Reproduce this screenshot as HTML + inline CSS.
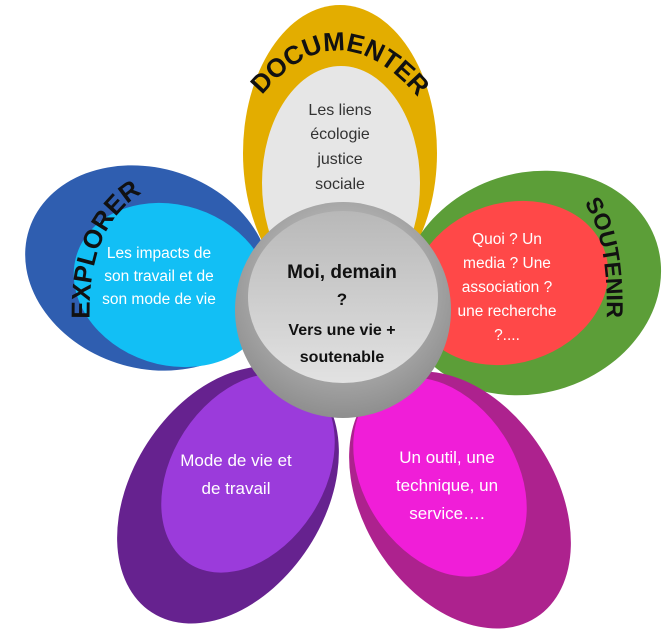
<!DOCTYPE html>
<html><head><meta charset="utf-8"><style>
html,body{margin:0;padding:0;background:#fff;overflow:hidden;width:667px;height:631px;}
#w{width:667px;height:631px;overflow:hidden;position:relative;}
svg{display:block;}
text{font-family:"Liberation Sans",sans-serif;}
</style></head><body><div id="w">
<svg width="667" height="631" viewBox="0 0 667 631" xmlns="http://www.w3.org/2000/svg">
<defs>
<radialGradient id="cg" cx="50%" cy="40%" r="60%"><stop offset="0" stop-color="#d8d8d8"/><stop offset="1" stop-color="#8e8e8e"/></radialGradient>
<linearGradient id="ci" x1="0" y1="0" x2="0" y2="1"><stop offset="0" stop-color="#b8b8b8"/><stop offset="1" stop-color="#e2e2e2"/></linearGradient>
<path id="pDoc" d="M 258,100 Q 338,0 422,102"/>
<path id="pExp" d="M 90,330 Q 84,220 152,188"/>
<path id="pSou" d="M 573,190 Q 612,225 606,335"/>
</defs>
<ellipse cx="340" cy="153" rx="97" ry="148" fill="#e3ad00"/>
<ellipse cx="341" cy="183" rx="79" ry="117" fill="#e6e6e6"/>
<ellipse cx="148" cy="268" rx="100" ry="125" fill="#2f5eb0" transform="rotate(-72 148 268)"/>
<ellipse cx="172" cy="285" rx="80" ry="100" fill="#12bff5" transform="rotate(-72 172 285)"/>
<ellipse cx="531" cy="283" rx="110" ry="132" fill="#5c9e38" transform="rotate(72 531 283)"/>
<ellipse cx="510" cy="283" rx="80" ry="100" fill="#ff4848" transform="rotate(72 510 283)"/>
<ellipse cx="228" cy="495" rx="96" ry="140" fill="#66228f" transform="rotate(33 228 495)"/>
<ellipse cx="248" cy="473" rx="76" ry="108" fill="#9b3bdb" transform="rotate(33 248 473)"/>
<ellipse cx="460" cy="500" rx="96" ry="140" fill="#ad228e" transform="rotate(-33 460 500)"/>
<ellipse cx="440" cy="477" rx="76" ry="108" fill="#f01ed8" transform="rotate(-33 440 477)"/>
<circle cx="343" cy="310" r="108" fill="url(#cg)"/>
<ellipse cx="343" cy="297" rx="95" ry="86" fill="url(#ci)"/>
<text font-size="26" font-weight="bold" fill="#111"><textPath href="#pDoc" startOffset="50%" text-anchor="middle">DOCUMENTER</textPath></text>
<text font-size="26" font-weight="bold" fill="#111"><textPath href="#pExp" startOffset="50%" text-anchor="middle">EXPLORER</textPath></text>
<text font-size="23" font-weight="bold" fill="#111"><textPath href="#pSou" startOffset="50%" text-anchor="middle">SOUTENIR</textPath></text>
<g font-size="16" fill="#333" text-anchor="middle">
<text x="340" y="115">Les liens</text>
<text x="340" y="139">écologie</text>
<text x="340" y="164">justice</text>
<text x="340" y="189">sociale</text>
</g>
<g font-size="15.5" fill="#fff" text-anchor="middle">
<text x="159" y="258">Les impacts de</text>
<text x="159" y="281">son travail et de</text>
<text x="159" y="304">son mode de vie</text>
<text x="507" y="244">Quoi ? Un</text>
<text x="507" y="268">media ? Une</text>
<text x="507" y="292">association ?</text>
<text x="507" y="316">une recherche</text>
<text x="507" y="340">?....</text>
</g>
<g font-size="17" fill="#fff" text-anchor="middle">
<text x="236" y="466">Mode de vie et</text>
<text x="236" y="494">de travail</text>
<text x="447" y="463">Un outil, une</text>
<text x="447" y="491">technique, un</text>
<text x="447" y="519">service….</text>
</g>
<g font-weight="bold" fill="#111" text-anchor="middle">
<text x="342" y="278" font-size="19">Moi, demain</text>
<text x="342" y="305" font-size="17">?</text>
<text x="342" y="335" font-size="16">Vers une vie +</text>
<text x="342" y="362" font-size="16">soutenable</text>
</g>
</svg>
</div></body></html>
